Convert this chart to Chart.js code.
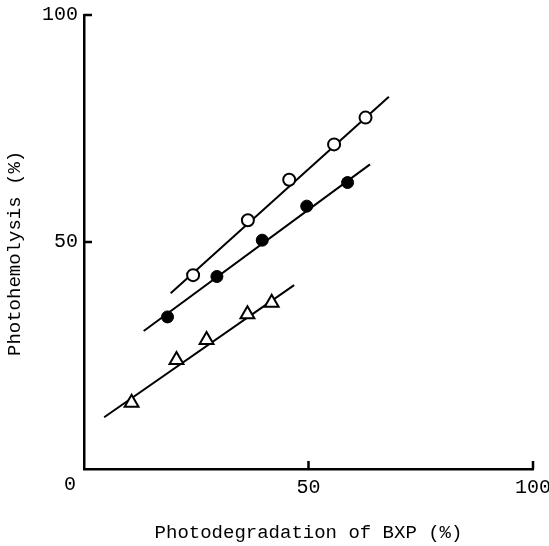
<!DOCTYPE html>
<html>
<head>
<meta charset="utf-8">
<script src="https://cdn.jsdelivr.net/npm/chart.js@4/dist/chart.umd.min.js"></script>
<style>
  html, body { margin: 0; padding: 0; background: #fff; }
  canvas { display: block; }
</style>
</head>
<body>
<canvas id="chart" width="549" height="546"></canvas>
<script>
// measured points (% photodegradation of BXP vs % photohemolysis)
const openX = [24.3, 36.5, 45.7, 55.7, 62.7];
const openY = [42.7, 54.8, 63.7, 71.5, 77.4];
const filledX = [18.6, 29.6, 39.7, 49.6, 58.7];
const filledY = [33.5, 42.4, 50.4, 57.9, 63.1];
const triX = [10.6, 20.6, 27.3, 36.4, 41.8];
const triY = [14.6, 24.0, 28.4, 34.1, 36.6];

// drawn regression lines (end points)
const openFitX = [19.3, 67.9];
const openFitY = [38.7, 82.0];
const filledFitX = [13.3, 63.7];
const filledFitY = [30.4, 67.1];
const triFitX = [4.5, 46.8];
const triFitY = [11.4, 40.5];

const xTicks = [0, 50, 100];
const yTicks = [0, 50, 100];

const pts = (xs, ys) => xs.map((x, i) => ({ x: x, y: ys[i] }));

const monoFont = "'Liberation Mono', 'DejaVu Sans Mono', monospace";

// tick marks point into the plot, plus the shared "0" at the corner
const axisExtras = {
  id: "axisExtras",
  afterDraw(chart) {
    const ctx = chart.ctx;
    const sx = chart.scales.x;
    const sy = chart.scales.y;
    const area = chart.chartArea;
    const len = 8;
    ctx.save();
    ctx.strokeStyle = "#000";
    ctx.lineWidth = 2.5;
    ctx.beginPath();
    xTicks.filter(v => v !== 0).forEach(v => {
      const px = sx.getPixelForValue(v);
      ctx.moveTo(px, area.bottom);
      ctx.lineTo(px, area.bottom - len);
    });
    yTicks.filter(v => v !== 0).forEach(v => {
      const py = sy.getPixelForValue(v);
      ctx.moveTo(area.left, py);
      ctx.lineTo(area.left + len, py);
    });
    ctx.stroke();

    ctx.font = "20px " + monoFont;
    ctx.fillStyle = "#000";
    ctx.textAlign = "center";
    ctx.textBaseline = "middle";
    ctx.fillText("0", sx.getPixelForValue(0) - 14, sy.getPixelForValue(0) + 16);
    ctx.restore();
  }
};

const axisStyle = {
  border: { display: true, color: "#000", width: 2.5 },
  grid: { display: false, drawTicks: false }
};

new Chart(document.getElementById("chart"), {
  type: "scatter",
  data: {
    datasets: [
      {
        data: pts(openX, openY),
        pointStyle: "circle",
        pointRadius: 6,
        pointBorderWidth: 2,
        pointBackgroundColor: "#fff",
        pointBorderColor: "#000",
        order: 0
      },
      {
        data: pts(filledX, filledY),
        pointStyle: "circle",
        pointRadius: 6,
        pointBorderWidth: 1,
        pointBackgroundColor: "#000",
        pointBorderColor: "#000",
        order: 0
      },
      {
        data: pts(triX, triY),
        pointStyle: "triangle",
        pointRadius: 8,
        pointBorderWidth: 2,
        pointBackgroundColor: "#fff",
        pointBorderColor: "#000",
        order: 0
      },
      {
        type: "line",
        data: pts(openFitX, openFitY),
        borderColor: "#000",
        borderWidth: 2,
        pointRadius: 0,
        order: 1
      },
      {
        type: "line",
        data: pts(filledFitX, filledFitY),
        borderColor: "#000",
        borderWidth: 2,
        pointRadius: 0,
        order: 1
      },
      {
        type: "line",
        data: pts(triFitX, triFitY),
        borderColor: "#000",
        borderWidth: 2,
        pointRadius: 0,
        order: 1
      }
    ]
  },
  options: {
    responsive: false,
    animation: false,
    layout: { padding: { left: 0, top: 15, right: 16, bottom: 0 } },
    plugins: {
      legend: { display: false },
      tooltip: { enabled: false }
    },
    scales: {
      x: {
        type: "linear",
        min: 0,
        max: 100,
        ...axisStyle,
        afterBuildTicks: s => { s.ticks = xTicks.map(v => ({ value: v })); },
        afterFit: s => {
          s.height = 77;
          s.paddingLeft = 0;
          s.paddingRight = 0;
        },
        ticks: {
          color: "#000",
          padding: 7,
          maxRotation: 0,
          font: { family: monoFont, size: 20 },
          callback: v => (v === 0 ? "" : String(v))
        },
        title: {
          display: true,
          text: "Photodegradation of BXP (%)",
          color: "#000",
          padding: { top: 0, bottom: 2 },
          font: { family: monoFont, size: 19 }
        }
      },
      y: {
        type: "linear",
        min: 0,
        max: 100,
        ...axisStyle,
        afterBuildTicks: s => { s.ticks = yTicks.map(v => ({ value: v })); },
        afterFit: s => {
          s.width = 84;
          s.paddingTop = 0;
          s.paddingBottom = 0;
        },
        ticks: {
          color: "#000",
          padding: 6,
          font: { family: monoFont, size: 20 },
          callback: v => (v === 0 ? "" : String(v))
        },
        title: {
          display: true,
          text: "Photohemolysis (%)  ",
          color: "#000",
          padding: { top: 4, bottom: 0 },
          font: { family: monoFont, size: 19 }
        }
      }
    }
  },
  plugins: [axisExtras]
});
</script>
</body>
</html>
